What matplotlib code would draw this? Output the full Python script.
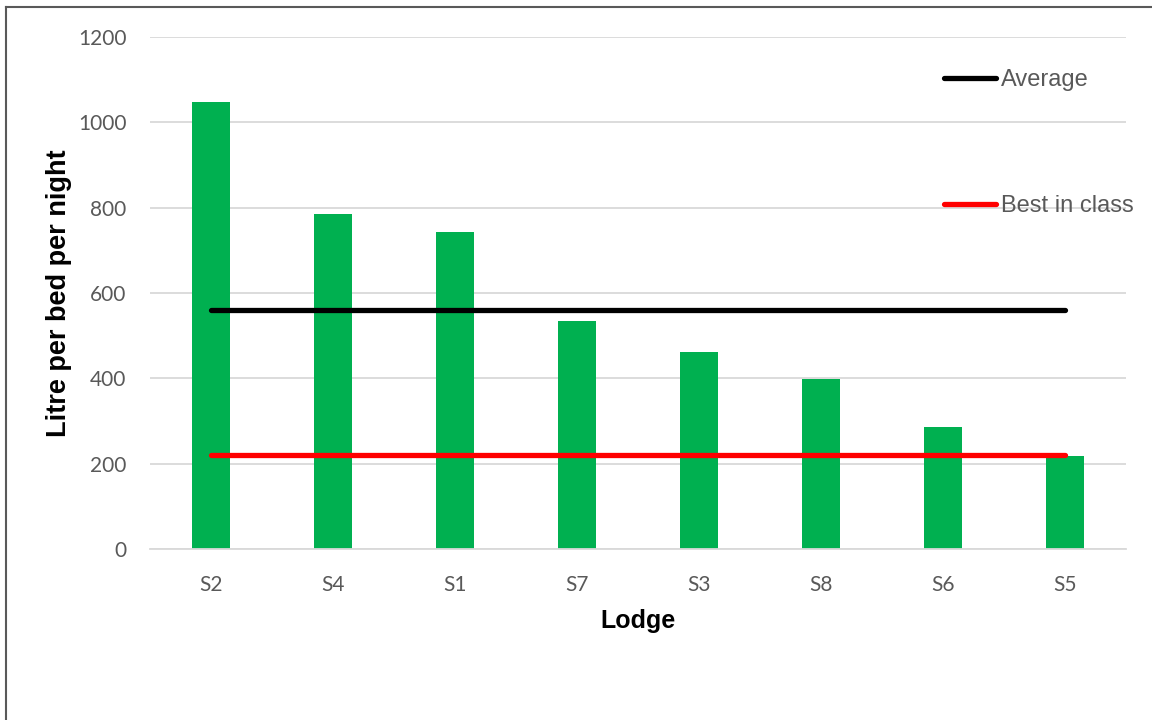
import matplotlib
matplotlib.use("Agg")
import matplotlib.pyplot as plt
from matplotlib.lines import Line2D
import numpy as np

lodges = ["S2", "S4", "S1", "S7", "S3", "S8", "S6", "S5"]
litres = [1048, 785, 742, 534, 462, 398, 286, 218]
average = 560
best_in_class = 220
yticks = [0, 200, 400, 600, 800, 1000, 1200]

W, H = 1152, 720
fig = plt.figure(figsize=(W / 100, H / 100), dpi=100)
ax = fig.add_axes([150 / W, 1 - 549 / H, (1126 - 150) / W, (549 - 37) / H])

x = np.arange(len(lodges))
ax.bar(x, litres, width=0.31, color="#00B050", zorder=2)
ax.plot([x[0], x[-1]], [average] * 2, color="black", lw=3.8, solid_capstyle="round", zorder=3)
ax.plot([x[0], x[-1]], [best_in_class] * 2, color="#FF0000", lw=3.8, solid_capstyle="round", zorder=3)

ax.set_xlim(-0.5, len(lodges) - 0.5)
ax.set_ylim(0, 1200)
ax.set_yticks(yticks)
ax.set_xticks(x)
ax.set_xticklabels(lodges)
ax.yaxis.grid(True, color="#D9D9D9", lw=1.3, zorder=0)
ax.set_axisbelow(True)
for s in ["top", "right", "left"]:
    ax.spines[s].set_visible(False)
ax.spines["bottom"].set_color("#D9D9D9")
ax.spines["bottom"].set_linewidth(1.3)
ax.tick_params(axis="both", length=0, labelsize=15, labelcolor="#595959")
ax.tick_params(axis="y", pad=17)
ax.tick_params(axis="x", pad=19)
for lab in ax.get_xticklabels() + ax.get_yticklabels():
    lab.set_fontfamily("Lato")

ax.set_xlabel("Lodge", fontsize=18, fontweight="bold", family="Liberation Sans", labelpad=10)
ax.set_ylabel("Litre per bed per night", fontsize=19.5, fontweight="bold", family="Liberation Sans", labelpad=4)

# legend drawn manually
for yy, col, lab in [(78, "black", "Average"), (204, "#FF0000", "Best in class")]:
    fy = 1 - yy / H
    fig.add_artist(Line2D([944 / W, 996 / W], [fy, fy], color=col, lw=3.8, solid_capstyle="round"))
    fig.text(1001 / W, fy - 2 / H, lab, fontsize=17, color="#595959", family="Liberation Sans", va="center", ha="left")

# chart border
fig.add_artist(Line2D([6 / W, 6 / W], [0, 1 - 7 / H], color="#595959", lw=1.5))
fig.add_artist(Line2D([6 / W, 1], [1 - 7 / H, 1 - 7 / H], color="#595959", lw=1.5))

fig.savefig("out.png", dpi=100, facecolor="white")
